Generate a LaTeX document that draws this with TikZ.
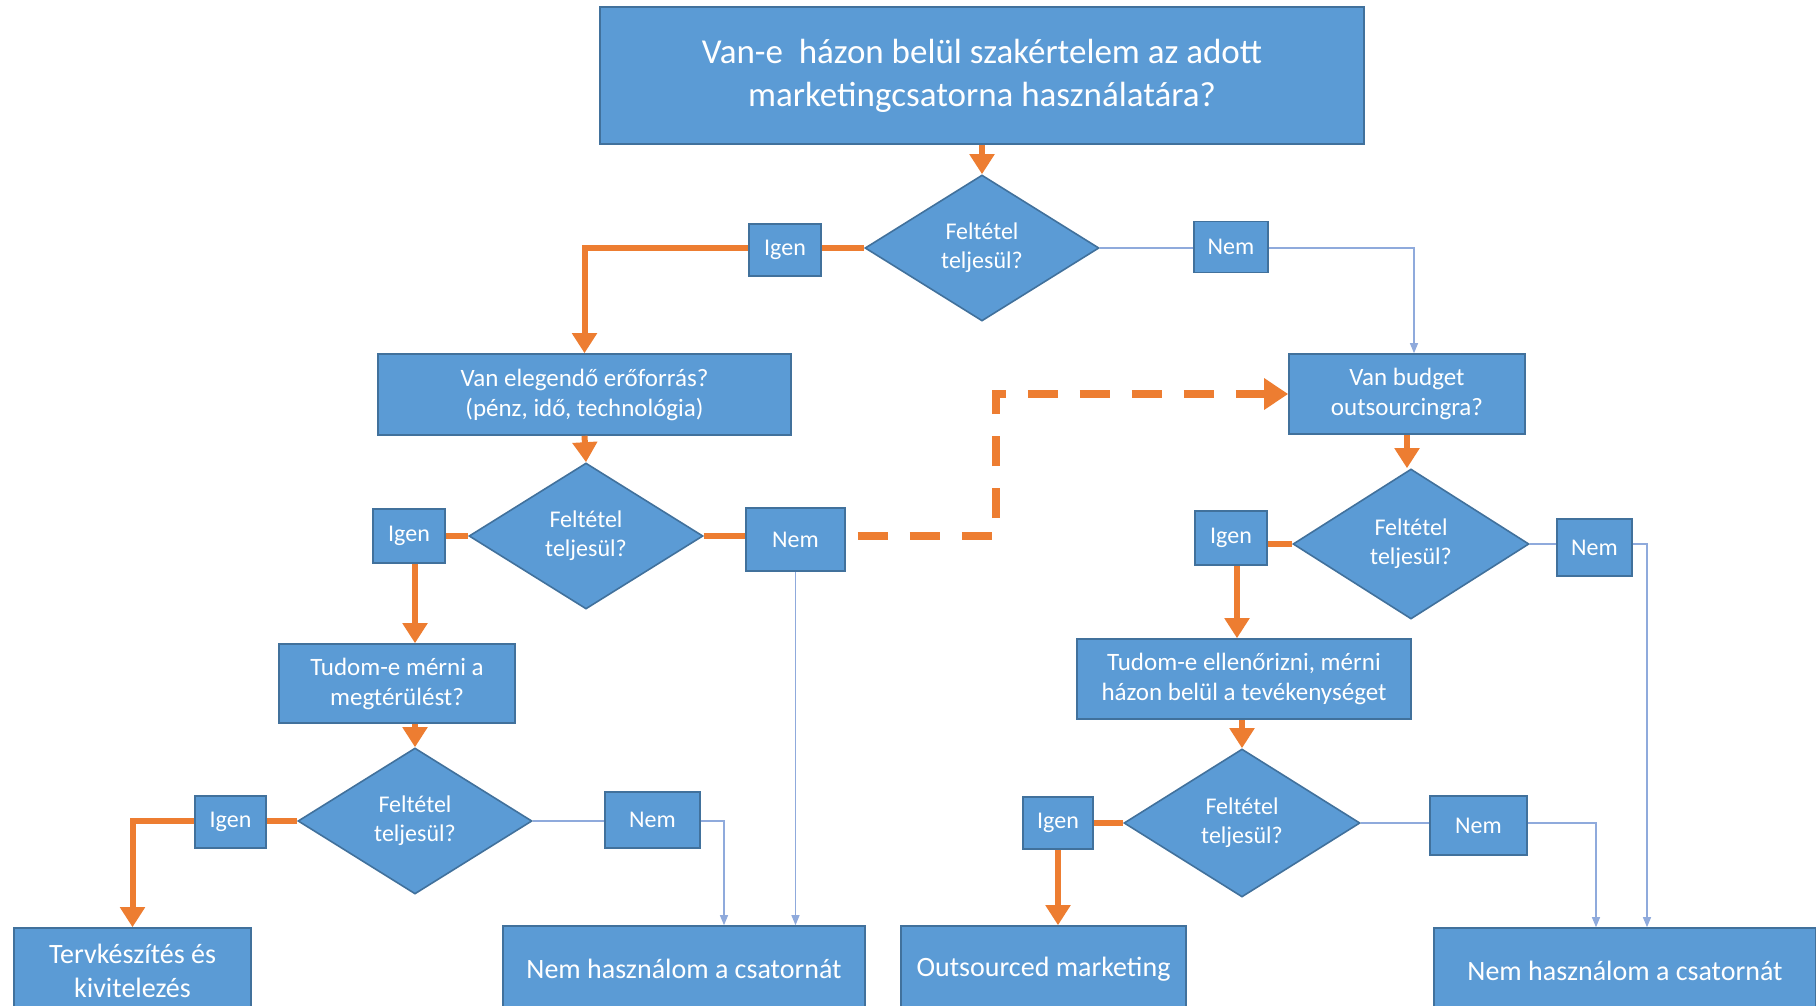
\documentclass[tikz,border=0pt]{standalone}
\usepackage{fontspec}
\setmainfont{Carlito}
\usetikzlibrary{arrows.meta,positioning,calc,shapes.geometric}
\definecolor{boxfill}{RGB}{91,155,213}
\definecolor{boxborder}{RGB}{65,113,156}
\definecolor{yesline}{RGB}{237,125,49}
\definecolor{noline}{RGB}{143,170,220}
\tikzset{
  qbox/.style={draw=boxborder, fill=boxfill, line width=0.8pt, text=white, align=center, inner sep=2pt, font=\fontsize{12.5}{15}\selectfont},
  endbox/.style={qbox, font=\fontsize{14}{17}\selectfont},
  decision/.style={diamond, aspect=1.6, draw=boxborder, fill=boxfill, line width=0.8pt, text=white, align=center, inner sep=0pt, minimum width=117pt, minimum height=73pt, font=\fontsize{12}{14.5}\selectfont},
  answer/.style={qbox, font=\fontsize{12}{14.5}\selectfont},
  yesflow/.style={draw=yesline, line width=3pt},
  yesarrow/.style={yesflow, -{Triangle[width=12pt,length=10pt]}},
  noflow/.style={draw=noline, line width=0.6pt, -{Triangle[width=4pt,length=5pt]}}
}
\begin{document}
\begin{tikzpicture}[x=0.5pt, y=-0.5pt]
        \useasboundingbox[fill=white] (0,0) rectangle (1816,1006);
        % Starting question
        \node[qbox, minimum width=382pt, minimum height=68.5pt, font=\fontsize{17.5}{21.5}\selectfont] (start) at (982,75.5) {Van-e~ házon belül szakértelem az adott\\ marketingcsatorna használatára?};
        \node[decision] (d1) at (982,248) {Feltétel\\ teljesül?};
        \node[answer, minimum width=36pt, minimum height=26pt] (igen1) at (785,250) {Igen};
        \node[answer, minimum width=37pt, minimum height=25.5pt] (nem1) at (1231,247) {Nem};
        % In-house branch
        \node[qbox, minimum width=206.5pt, minimum height=40.5pt] (forras) at (584.5,394.5) {Van elegendő erőforrás?\\ (pénz, idő, technológia)};
        \node[decision] (d2) at (586,536) {Feltétel\\ teljesül?};
        \node[answer, minimum width=36pt, minimum height=27pt] (igen2) at (409,536) {Igen};
        \node[answer, minimum width=49.5pt, minimum height=31.5pt] (nem2) at (795.5,539.5) {Nem};
        \node[qbox, minimum width=118pt, minimum height=39.5pt] (megterules) at (397,683.5) {Tudom-e mérni a\\ megtérülést?};
        \node[decision] (d3) at (415,821) {Feltétel\\ teljesül?};
        \node[answer, minimum width=35.5pt, minimum height=26pt] (igen3) at (230.5,822) {Igen};
        \node[answer, minimum width=47.5pt, minimum height=28pt] (nem3) at (652.5,820) {Nem};
        % Outsourcing branch
        \node[qbox, minimum width=118pt, minimum height=40pt] (budget) at (1407,394) {Van budget\\ outsourcingra?};
        \node[decision, minimum width=118pt, minimum height=75pt] (d4) at (1411,544) {Feltétel\\ teljesül?};
        \node[answer, minimum width=36pt, minimum height=27pt] (igen4) at (1231,538) {Igen};
        \node[answer, minimum width=37.5pt, minimum height=28.5pt] (nem4) at (1594.5,547.5) {Nem};
        \node[qbox, minimum width=167pt, minimum height=40pt] (ellenor) at (1244,679) {Tudom-e ellenőrizni, mérni\\ házon belül a tevékenységet};
        \node[decision, minimum width=118pt, minimum height=74pt] (d5) at (1242,823) {Feltétel\\ teljesül?};
        \node[answer, minimum width=35pt, minimum height=26pt] (igen5) at (1058,823) {Igen};
        \node[answer, minimum width=48.5pt, minimum height=29.5pt] (nem5) at (1478.5,825.5) {Nem};
        % End results
        \node[endbox, minimum width=118.5pt, minimum height=43pt] (terv) at (132.5,971) {Tervkészítés és\\ kivitelezés};
        \node[endbox, minimum width=181pt, minimum height=43pt] (nemL) at (684,969) {Nem használom a csatornát};
        \node[endbox, minimum width=142.5pt, minimum height=43pt] (outs) at (1043.5,969) {Outsourced marketing};
        \node[endbox, minimum width=191pt, minimum height=43pt] (nemR) at (1625,971) {Nem használom a csatornát};
        % Igen paths
        \draw[yesarrow] (start.south) -- (d1.north);
        \draw[yesflow] (d1.west) -- (d1.west -| igen1.east);
        \draw[yesarrow] (igen1.west |- d1.west) -| (forras.north);
        \draw[yesarrow] (forras.south) -- (d2.north);
        \draw[yesflow] (d2.west) -- (d2.west -| igen2.east);
        \draw[yesflow] (d2.east) -- (d2.east -| nem2.west);
        \draw[yesarrow] ([xshift=3pt]igen2.south) -- ([xshift=3pt]igen2.south |- megterules.north);
        \draw[yesarrow] (d3.north |- megterules.south) -- (d3.north);
        \draw[yesflow] (d3.west) -- (d3.west -| igen3.east);
        \draw[yesarrow] (igen3.west |- d3.west) -| (terv.north);
        \draw[yesarrow] (budget.south) -- (budget.south |- d4.north);
        \draw[yesflow] (d4.west) -- (d4.west -| igen4.east);
        \draw[yesarrow] ([xshift=3pt]igen4.south) -- ([xshift=3pt]igen4.south |- ellenor.north);
        \draw[yesarrow] (d5.north |- ellenor.south) -- (d5.north);
        \draw[yesflow] (d5.west) -- (d5.west -| igen5.east);
        \draw[yesarrow] (igen5.south) -- (igen5.south |- outs.north);
        % Dashed jump to outsourcing
        \draw[yesline, line width=4pt, dash pattern=on 15pt off 11pt, -{Triangle[width=15pt,length=12pt]}] ($(d2.east -| nem2.east)+(6pt,0)$) -- (996,536) |- (budget.west);
        % Nem paths
        \draw[noflow, -] (d1.east) -- (d1.east -| nem1.west);
        \draw[noflow] (nem1.east |- d1.east) -| ([xshift=3.5pt]budget.north);
        \draw[noflow] (nem2.south) -- (nem2.south |- nemL.north);
        \draw[noflow, -] (d3.east) -- (d3.east -| nem3.west);
        \draw[noflow] (nem3.east |- d3.east) -| ([xshift=20pt]nemL.north);
        \draw[noflow, -] (d4.east) -- (d4.east -| nem4.west);
        \draw[noflow] (nem4.east |- d4.east) -| ([xshift=11pt]nemR.north);
        \draw[noflow, -] (d5.east) -- (d5.east -| nem5.west);
        \draw[noflow] (nem5.east |- d5.east) -| ([xshift=-14.5pt]nemR.north);
    \end{tikzpicture}
\end{document}
